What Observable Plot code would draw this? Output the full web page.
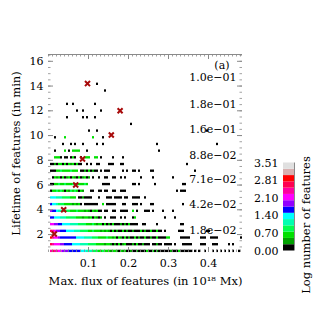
<!DOCTYPE html>
<html><head><meta charset="utf-8">
<script src="https://cdn.jsdelivr.net/npm/d3@7"></script>
<script src="https://cdn.jsdelivr.net/npm/@observablehq/plot@0.6"></script>
<style>
body{margin:0;background:#fff;}
#wrap{position:relative;width:315px;height:315px;}
#wrap svg{position:absolute;left:0;top:0;overflow:visible;}
</style></head><body><div id="wrap"></div>
<script>
// ---- data ----
const binWidth = 0.005;       // flux bin width (10^18 Mx)
const rowHalf = 0.095;        // half height of a lifetime bin (min)
const lifetimes = [0.64,1.18,1.72,2.26,2.80,3.34,3.88,4.42,4.96,5.50,6.04,6.58,7.12,7.66,8.20,8.74,9.28,9.82,10.36,10.90,11.44,11.98,12.52,13.06,13.60,14.14];
// one string per lifetime row; each char = colour level of a flux bin ('.' = empty)
const rows = [
".9a9988777 6666665554 4433322322 2122102120 0100100002 0020100000 0100020000 00.0.0..0. ..0.0.0.0. 0.0..0.",
".a98887766 6655554444 3333222212 2101020120 0010200100 0.00100.00 00.0...000 00....000. ..000..... 0.0....",
".b98876666 6666555544 4433322223 2212021020 1002010020 0100200002 2.....0000 0.....000. .0000..... ......0",
".a98776665 5554443333 2232221212 1020100201 0010002010 0200200.0. .....000.. .........0 0.........",
".887766555 5444433332 2232122020 1020001010 20000..00. ....0..... ......00..",
".665554443 3333222122 1202101.0. .000..0.0. ..02...... ........0. ...0",
".766544333 3222322212 1021200.00 ..00..0000 ..2.0...00 0.0....0.. ..0",
".655433322 2212120.00 00000..2.0 0000...00. ..000.0... .00....... .......0",
".555444333 3222.00100 00...0...0 00.0000.00 ..0000..0.",
".022323202 13232021.. .00..00.00 ..00..000. .......... .......... ....0.000",
".002232232 2232322232 .......000 0......... ..00.0.... ...0...... .......00.",
"..02120201 2021020120 1.0..0..00 ..00..0.0. ......0... ..0....... ..0",
".000223222 23222.0010 20100.0.00 0......0.0 ..00.0.... .00....... .......... ...0",
".001022020 2120200..0 .0..00.... 000...00.. .......... .......... .........0",
"...2220.00 .020..0.22 2..22.0... ..0....0..",
"...0....2. 0.2222...0 .......... .......... .......... .....0",
".......0.. .0.0...0.. ....0..0.. .......... .......... ....0..... .......... .......... ....0",
"...0....2. .......... ..2....0..",
".......... .......... 0...0..... .......... .......... .......... .......... .........0",
".......... .......... .......... .......... .0",
".........0 .......0.0 ...0",
".......... ....0..0.. ......0",
".........0 ..0....... ...0",
"",
".......... .......... ........0",
".......... .......... ....0"
];
const levelColors = ["#000000","#00a000","#00e000","#00ff50","#00ffb0","#00ffff","#0000ff","#9000ff","#ff00ff","#ff00a0","#ff0050","#ff0000","#d8b0b0","#e0e0e0"];
const levelTicks = [0.00,0.70,1.40,2.10,2.81,3.51];
const maxLog = 3.51;
const meanFlux = [0.0145,0.038,0.068,0.085,0.157,0.179,0.0975];
const meanLife = [2.05,4.0,6.0,8.1,10.05,12.0,14.2];
const annotText = ["1.0e\u221201","1.8e\u221201","1.6e\u221201","8.8e\u221202","7.1e\u221202","4.2e\u221202","1.8e\u221202"];
const annotLife = [14.69,12.55,10.49,8.43,6.49,4.43,2.37];
const panelLabel = "(a)";
const panelLife = 15.7;
const yTicks = [2,4,6,8,10,12,14,16];
const xTicks = [0.1,0.2,0.3,0.4];
const xDomain = [0,0.485];
const yDomain = [0.55,16.55];

// ---- build cells ----
const cells = [];
rows.forEach((s, r) => {
  const str = s.replace(/ /g, "");
  for (let i = 0; i < str.length; i++) {
    const c = str[i];
    if (c === ".") continue;
    cells.push({x1: i*binWidth, x2: (i+1)*binWidth, life: lifetimes[r], level: parseInt(c, 16)});
  }
});
const levels = levelColors.map((c, i) => i);
const xMinor = d3.range(0, 0.4851, 0.01);
const yMinor = d3.range(1, 16.51, 0.5);
const W = 315, H = 315, mL = 48, mR = 73, mT = 54, mB = 63;
const pW = W - mL - mR, pH = H - mT - mB;
const tickColor = "#8a8a8a";
const font = "DejaVu Serif";

const main = Plot.plot({
  width: W, height: H, marginLeft: mL, marginRight: mR, marginTop: mT, marginBottom: mB,
  style: {fontFamily: font, fontSize: "11px", color: "#000", background: "transparent", overflow: "visible"},
  x: {domain: xDomain},
  y: {domain: yDomain},
  color: {type: "ordinal", domain: levels, range: levelColors},
  marks: [
    Plot.rect(cells, {x1: "x1", x2: "x2", y1: d => d.life - rowHalf, y2: d => d.life + rowHalf, fill: "level"}),
    Plot.ruleY([yDomain[1]], {stroke: tickColor}),
    Plot.ruleX(xMinor, {x: d => d, insetTop: pH - 2.5, stroke: tickColor, strokeWidth: 0.8}),
    Plot.ruleX(xMinor, {x: d => d, insetBottom: pH - 2.5, stroke: tickColor, strokeWidth: 0.8}),
    Plot.ruleX(xTicks, {x: d => d, insetTop: pH - 5, stroke: tickColor}),
    Plot.ruleX(xTicks, {x: d => d, insetBottom: pH - 5, stroke: tickColor}),
    Plot.ruleY(yMinor, {y: d => d, insetRight: pW - 2.5, stroke: tickColor, strokeWidth: 0.8}),
    Plot.ruleY(yMinor, {y: d => d, insetLeft: pW - 2.5, stroke: tickColor, strokeWidth: 0.8}),
    Plot.ruleY(yTicks, {y: d => d, insetRight: pW - 5, stroke: tickColor}),
    Plot.ruleY(yTicks, {y: d => d, insetLeft: pW - 5, stroke: tickColor}),
    Plot.dot(meanFlux, {x: d => d, y: (d, i) => meanLife[i], symbol: "times", r: 2.4, stroke: "#a80a0a", strokeWidth: 2}),
    Plot.text(annotText, {text: d => d, y: (d, i) => annotLife[i], frameAnchor: "right", dx: -6, textAnchor: "end", lineAnchor: "middle", fill: "#000"}),
    Plot.text([panelLabel], {text: d => d, y: () => panelLife, frameAnchor: "right", dx: -13, textAnchor: "end", lineAnchor: "middle", fill: "#000"}),
    Plot.axisY(yTicks, {tickSize: 0, tickPadding: 5, label: null, tickFormat: d => String(d)}),
    Plot.axisX(xTicks, {tickSize: 0, tickPadding: 7, label: null, tickFormat: d => d.toFixed(1)}),
    Plot.text(["Lifetime of features (in min)"], {text: d => d, frameAnchor: "left", dx: -32, rotate: -90, textAnchor: "middle", lineAnchor: "middle", fontSize: 11.5}),
    Plot.text(["Max. flux of features (in 10\u00b9\u2078 Mx)"], {text: d => d, frameAnchor: "bottom", dy: 29, textAnchor: "middle", lineAnchor: "middle", fontSize: 11.5})
  ]
});

const bar = Plot.plot({
  width: 65, height: 175, marginLeft: 33, marginRight: 21, marginTop: 22.5, marginBottom: 64.5,
  style: {fontFamily: font, fontSize: "11px", color: "#000", background: "transparent", overflow: "visible"},
  x: {domain: [0, 1], axis: null},
  y: {domain: [0, maxLog], axis: null},
  color: {type: "ordinal", domain: levels, range: levelColors},
  marks: [
    Plot.rect(levels, {x1: 0, x2: 1, y1: d => d * maxLog / levels.length, y2: d => (d + 1) * maxLog / levels.length, fill: d => d}),
    Plot.ruleX([1], {stroke: tickColor}),
    Plot.axisY(levelTicks, {tickSize: 0, tickPadding: 5, label: null, tickFormat: d => d.toFixed(2)}),
    Plot.text(["Log number of features"], {text: d => d, frameAnchor: "right", dx: 12, dy: 18, rotate: -90, textAnchor: "middle", lineAnchor: "middle", fontSize: 11.5})
  ]
});

const wrap = document.getElementById("wrap");
wrap.appendChild(main);
bar.style.left = "250px";
bar.style.top = "140px";
wrap.appendChild(bar);
</script></body></html>
